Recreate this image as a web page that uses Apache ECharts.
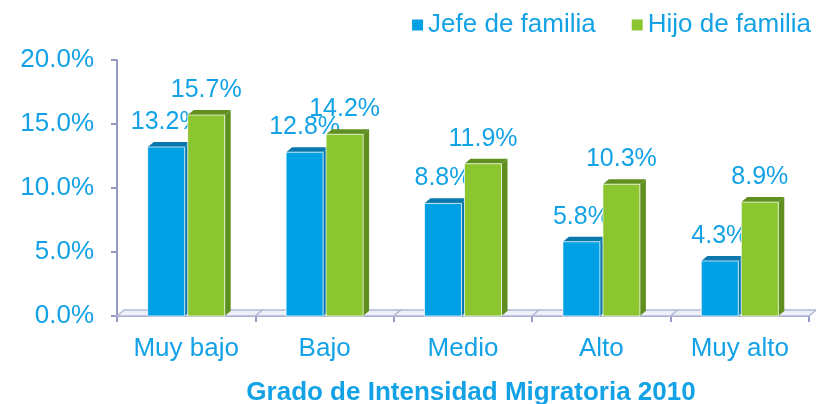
<!DOCTYPE html>
<html>
<head>
<meta charset="utf-8">
<script src="https://cdn.jsdelivr.net/npm/echarts@6/dist/echarts.min.js"></script>
<style>
html, body { margin: 0; padding: 0; background: #fff; }
#main { width: 816px; height: 404px; }
</style>
</head>
<body>
<div id="main"></div>
<script>
var categories = ['Muy bajo', 'Bajo', 'Medio', 'Alto', 'Muy alto'];
var jefe = [13.2, 12.8, 8.8, 5.8, 4.3];
var hijo = [15.7, 14.2, 11.9, 10.3, 8.9];
var yTicks = [0, 5, 10, 15, 20];

var txtBlue = '#13a2e6';
var axisCol = '#959bc4';
var fontFam = '"Liberation Sans", Arial, sans-serif';

// draws a bar with a small top and side face, like the 3D original
function bar3d(offset, front, top, side) {
	return function(params, api) {
		var idx = api.value(0);
		var val = api.value(1);
		var p = api.coord([idx, val]);
		var b = api.coord([idx, 0]);
		var w = 37, dx = 6, dy = -5;
		var x0 = p[0] + offset - w / 2, x1 = x0 + w;
		var y0 = p[1], y1 = b[1];
		return {
			type: 'group',
			children: [
				{ type: 'polygon', shape: { points: [[x1, y0], [x1 + dx, y0 + dy], [x1 + dx, y1 + dy], [x1, y1]] }, style: { fill: side } },
				{ type: 'polygon', shape: { points: [[x0, y0], [x0 + dx, y0 + dy], [x1 + dx, y0 + dy], [x1, y0]] }, style: { fill: top } },
				{ type: 'rect', shape: { x: x0, y: y0, width: w, height: y1 - y0 }, style: { fill: front, stroke: 'rgba(255,255,255,0.7)', lineWidth: 1 } },
				{ type: 'text', x: (x0 + x1) / 2, y: y0 - 25, style: { text: val.toFixed(1) + '%', fill: txtBlue, font: '25px ' + fontFam, align: 'center', verticalAlign: 'middle' } }
			]
		};
	};
}

// floor under the bars
function floor(params, api) {
	var idx = api.value(0);
	var b = api.coord([idx, 0]);
	var bw = api.size([1, 0])[0];
	var xl = b[0] - bw / 2, xr = b[0] + bw / 2;
	return {
		type: 'polygon',
		shape: { points: [[xl, b[1]], [xl + 7, b[1] - 6], [xr + 7, b[1] - 6], [xr, b[1]]] },
		style: { fill: '#eef0f8', stroke: '#b4b9d8', lineWidth: 1.5 }
	};
}

var chart = echarts.init(document.getElementById('main'));
chart.setOption({
	animation: false,
	grid: { left: 117, right: 7, top: 60, bottom: 88, outerBoundsMode: 'none', containLabel: false },
	legend: {
		right: 0, top: 7,
		itemWidth: 11, itemHeight: 11, itemGap: 36,
		icon: 'rect',
		textStyle: { color: txtBlue, fontSize: 26, fontFamily: fontFam },
		data: ['Jefe de familia', 'Hijo de familia']
	},
	xAxis: {
		type: 'category',
		data: categories,
		axisLine: { lineStyle: { color: axisCol, width: 2 } },
		axisTick: { show: true, length: 6, lineStyle: { color: axisCol, width: 2 } },
		axisLabel: { color: txtBlue, fontSize: 26, fontFamily: fontFam, margin: 20 },
		name: 'Grado de Intensidad Migratoria 2010',
		nameLocation: 'middle',
		nameGap: 64,
		nameTextStyle: { color: txtBlue, fontSize: 26, fontWeight: 'bold', fontFamily: fontFam, padding: [0, 0, 0, 16] }
	},
	yAxis: {
		type: 'value',
		min: yTicks[0], max: yTicks[yTicks.length - 1], interval: 5,
		axisLine: { show: true, lineStyle: { color: axisCol, width: 2 } },
		axisTick: { show: true, length: 6, lineStyle: { color: axisCol, width: 2 } },
		splitLine: { show: false },
		axisLabel: { color: txtBlue, fontSize: 26, fontFamily: fontFam, margin: 23,
			formatter: function(v) { return v.toFixed(1) + '%'; } }
	},
	series: [
		{
			type: 'custom', name: 'floor', silent: true, z: 1,
			renderItem: floor,
			data: categories.map(function(c, i) { return [i, 0]; })
		},
		{
			type: 'custom', name: 'Jefe de familia', z: 3,
			itemStyle: { color: '#00a0e4' },
			renderItem: bar3d(-20, '#00a0e4', '#0a78ad', '#0a78ad'),
			data: jefe.map(function(v, i) { return [i, v]; })
		},
		{
			type: 'custom', name: 'Hijo de familia', z: 3,
			itemStyle: { color: '#8bc631' },
			renderItem: bar3d(20, '#8bc631', '#5f8f1f', '#5f8f1f'),
			data: hijo.map(function(v, i) { return [i, v]; })
		}
	]
});
</script>
</body>
</html>
